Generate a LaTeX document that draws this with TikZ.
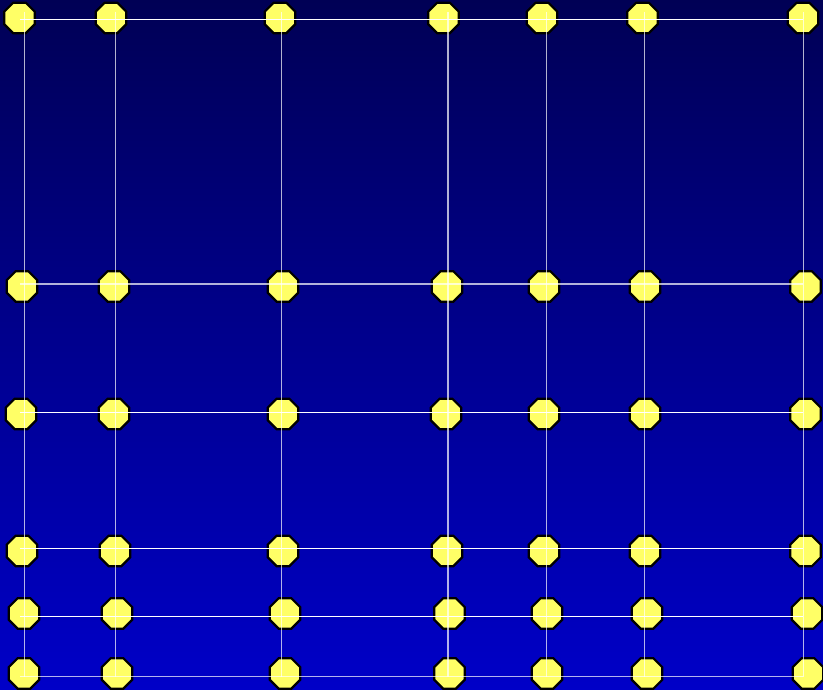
\documentclass[tikz,border=0pt]{standalone}
\usetikzlibrary{shapes.geometric}
\definecolor{bgtop}{RGB}{0,0,85}
\definecolor{bgbot}{RGB}{0,0,200}
\definecolor{octyellow}{RGB}{255,255,102}
\tikzset{
  octa/.style={regular polygon, regular polygon sides=8,
    minimum size=33pt, inner sep=0pt, draw=black, line width=2.2pt, fill=octyellow},
  gridline/.style={draw=white, line width=1pt},
  paleline/.style={draw=white, draw opacity=0.7, line width=1.2pt},
}
\begin{document}
\begin{tikzpicture}[x=1pt,y=1pt]
\shade[top color=bgtop,bottom color=bgbot] (0,0) rectangle (823,690);
\useasboundingbox (0,0) rectangle (823,690);
\begin{scope}[y=-1pt, shift={(0pt,690pt)}]
  % octagon nodes
  \foreach \r/\y/\xs in {
    1/18/{19.5,111,280,443.5,542,642.5,803},
    2/286.5/{22,114,283,447,544,645,805.5},
    3/414/{21,114,283,446,544,645,805.5},
    4/551/{22,115,283,447,544,645,805.5},
    5/613.5/{24,117,285,449.5,547,647,807},
    6/673.5/{24,117,285,449.5,547,647,808}}{
    \foreach \x [count=\c] in \xs {
      \node[octa] (o\r\c) at (\x,\y) {};
    }
  }
  % line end points
  \foreach \i/\x in {1/24.5,2/115.7,3/281.7,4/448,5/546.3,6/644.5,7/803.3}{
    \coordinate (vt\i) at (\x,12);
    \coordinate (vb\i) at (\x,677);
  }
  \foreach \i/\y in {1/19.3,2/284,3/412.3,4/548.7,5/616.7,6/676.7}{
    \coordinate (hl\i) at (20,\y);
    \coordinate (hr\i) at (803.3,\y);
  }
  % vertical lines
  \foreach \i in {1,...,7}{
    \draw[paleline] (vt\i) -- (vb\i);
  }
  % horizontal lines
  \foreach \i in {1,3,4,5}{
    \draw[gridline] (hl\i) -- (hr\i);
  }
  \foreach \i in {2,6}{
    \draw[paleline, line width=1.6pt] (hl\i) -- (hr\i);
  }
\end{scope}
\end{tikzpicture}
\end{document}
